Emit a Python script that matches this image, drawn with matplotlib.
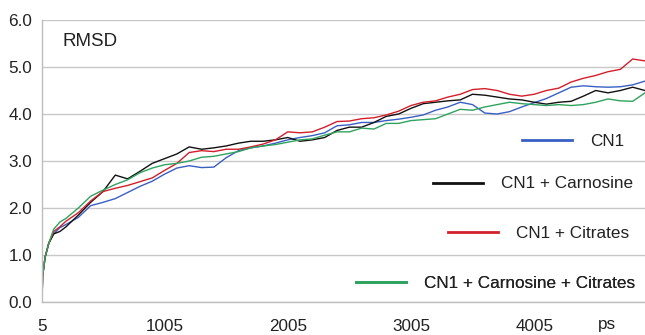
import matplotlib.pyplot as plt
import numpy as np

plt.rcParams['font.family'] = ['Liberation Sans', 'DejaVu Sans']

# time axis (ps) and RMSD values
ps = [5, 10, 30, 60, 100, 150, 200, 300, 400, 500, 600, 700, 800, 900,
      1000, 1100, 1200, 1300, 1400, 1500, 1600, 1700, 1800, 1900,
      2000, 2100, 2200, 2300, 2400, 2500, 2600, 2700, 2800, 2900,
      3000, 3100, 3200, 3300, 3400, 3500, 3600, 3700, 3800, 3900,
      4000, 4100, 4200, 4300, 4400, 4500, 4600, 4700, 4800, 4900]

cn1 = [0.0, 0.55, 0.95, 1.25, 1.45, 1.58, 1.65, 1.80, 2.05, 2.12, 2.20, 2.33, 2.46, 2.57,
       2.72, 2.85, 2.90, 2.86, 2.87, 3.07, 3.22, 3.28, 3.32, 3.38,
       3.45, 3.50, 3.54, 3.60, 3.75, 3.77, 3.82, 3.82, 3.86, 3.89,
       3.93, 3.98, 4.08, 4.15, 4.25, 4.20, 4.02, 4.00, 4.05, 4.15,
       4.24, 4.33, 4.45, 4.57, 4.60, 4.58, 4.57, 4.58, 4.62, 4.70]

carnosine = [0.0, 0.55, 0.95, 1.25, 1.45, 1.50, 1.60, 1.85, 2.12, 2.35, 2.70, 2.62, 2.78, 2.95,
             3.05, 3.15, 3.30, 3.25, 3.28, 3.32, 3.38, 3.42, 3.42, 3.45,
             3.50, 3.42, 3.45, 3.50, 3.65, 3.72, 3.72, 3.82, 3.95, 4.00,
             4.12, 4.22, 4.25, 4.28, 4.30, 4.42, 4.40, 4.36, 4.32, 4.30,
             4.25, 4.21, 4.25, 4.27, 4.38, 4.50, 4.45, 4.50, 4.57, 4.50]

citrates = [0.0, 0.55, 0.95, 1.25, 1.50, 1.60, 1.72, 1.90, 2.15, 2.35, 2.42, 2.48, 2.56, 2.64,
            2.80, 2.95, 3.18, 3.22, 3.20, 3.25, 3.25, 3.30, 3.36, 3.45,
            3.62, 3.60, 3.62, 3.72, 3.84, 3.85, 3.90, 3.92, 3.98, 4.06,
            4.18, 4.25, 4.28, 4.36, 4.42, 4.52, 4.54, 4.50, 4.42, 4.38,
            4.42, 4.50, 4.55, 4.68, 4.76, 4.82, 4.90, 4.95, 5.17, 5.13]

both = [0.0, 0.55, 0.95, 1.25, 1.55, 1.70, 1.78, 2.00, 2.25, 2.38, 2.50, 2.60, 2.75, 2.85,
        2.92, 2.95, 3.00, 3.08, 3.10, 3.15, 3.20, 3.28, 3.32, 3.35,
        3.40, 3.45, 3.47, 3.55, 3.62, 3.62, 3.70, 3.68, 3.80, 3.80,
        3.86, 3.88, 3.90, 4.00, 4.10, 4.08, 4.15, 4.20, 4.25, 4.22,
        4.20, 4.18, 4.20, 4.18, 4.20, 4.25, 4.32, 4.28, 4.27, 4.45]

names = ['CN1', 'CN1 + Carnosine', 'CN1 + Citrates', 'CN1 + Carnosine + Citrates']
colors = ['#3a5fc4', '#111111', '#d21f2b', '#2fa35e']
xticks = [5, 1005, 2005, 3005, 4005]

fig = plt.figure(figsize=(6.45, 3.35), dpi=100)
ax = fig.add_axes([42/645, 1 - 302/335, 1 - 42/645, 282/335])

lines = []
for vals, c in zip([cn1, carnosine, citrates, both], colors):
    l, = ax.plot(ps, vals, color=c, lw=1.0)
    lines.append(l)

ax.set_xlim(5, 4900)
ax.set_ylim(0, 6)
ax.set_yticks(np.arange(0, 7, 1))
ax.set_yticklabels(['%.1f' % v for v in np.arange(0, 7, 1)])
ax.set_xticks(xticks)
ax.set_xticklabels([str(t) for t in xticks])
ax.tick_params(axis='both', length=0, labelsize=12.3, colors='#222222')
ax.tick_params(axis='x', pad=12.5)
ax.tick_params(axis='y', pad=7)
ax.grid(axis='y', color='#c8c8c8', lw=1)
ax.set_axisbelow(True)
for s in ['top', 'right']:
    ax.spines[s].set_visible(False)
for s in ['left', 'bottom']:
    ax.spines[s].set_color('#bdbdbd')
    ax.spines[s].set_linewidth(1)

ax.text(62/645, 1 - 42/335, 'RMSD', transform=fig.transFigure, fontsize=13.5,
        va='center', ha='left', color='#222222')
fig.text(598/645, 1 - 325/335, 'ps', fontsize=12.3, va='center', ha='left', color='#222222')

# legend entries scattered on the right, one legend each
spots = [(522, 141), (433, 184), (448, 233), (356, 283)]
for l, name, (lx, ly) in zip(lines, names, spots):
    leg = ax.legend([l], [name], loc='center left', frameon=False,
                    bbox_to_anchor=(lx/645, 1 - ly/335), bbox_transform=fig.transFigure,
                    borderpad=0, borderaxespad=0, handlelength=2.9, handletextpad=1.1,
                    fontsize=12.3)
    for h in leg.get_lines():
        h.set_linewidth(2)
    for t in leg.get_texts():
        t.set_color('#222222')
    ax.add_artist(leg)

plt.savefig('out.png', dpi=100)
